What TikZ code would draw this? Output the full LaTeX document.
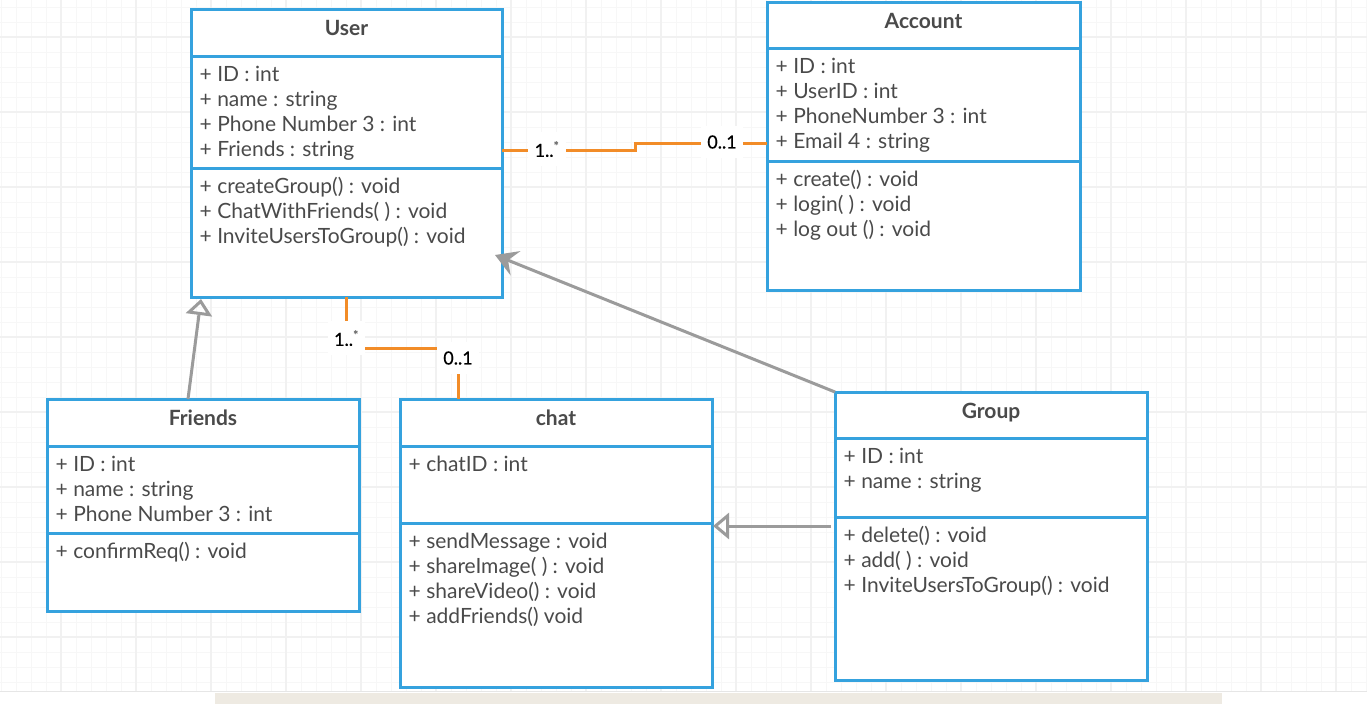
\documentclass[tikz,border=0pt]{standalone}
\usepackage{fontspec}
\setmainfont{Lato}
\newfontfamily\multfont{Lato}[FakeBold=0.6]
\usetikzlibrary{calc,arrows.meta}

\definecolor{umlblue}{HTML}{35A2DE}
\definecolor{assoccol}{HTML}{F28C28}
\definecolor{gencol}{HTML}{9B9B9B}
\definecolor{txt}{HTML}{4A4A4A}
\definecolor{gridminor}{HTML}{F7F7F7}
\definecolor{gridmajor}{HTML}{F1F1F1}
\definecolor{gridedge}{HTML}{E6E6E6}
\definecolor{strip}{HTML}{EEEAE2}

\tikzset{
  classbox/.style={draw=umlblue, line width=3pt, fill=white, outer sep=0pt, inner sep=0pt},
  divider/.style={draw=umlblue, line width=3pt},
  member/.style={text=txt, font=\fontsize{21}{25}\selectfont, inner sep=0pt, anchor=base west},
  ctitle/.style={text=txt, font=\bfseries\fontsize{21}{25}\selectfont, inner sep=0pt, anchor=base},
  assocline/.style={draw=assoccol, line width=3pt},
  mult/.style={font=\multfont\fontsize{18}{20}\selectfont, fill=white, inner xsep=6.5pt, inner ysep=9pt, text=black},
  genline/.style={draw=gencol, line width=3pt},
  genarrow/.style={genline, -{Triangle[open, length=16pt, width=26pt]}},
  openhead/.style={genline, -{Stealth[length=22pt, width=26pt, inset=8pt]}},
}

% class box: name, x, y, width, height, title height, attribute height, title
\newcommand\umlclass[8]{%
  \node[classbox, minimum width=#4pt, minimum height=#5pt, anchor=north west] (#1) at (#2,#3) {};
  \draw[divider] ($(#1.north west)+(0,#6)$) coordinate (#1-d1) -- ($(#1.north east)+(0,#6)$);
  \draw[divider] ($(#1.north west)+(0,#6+#7)$) coordinate (#1-d2) -- ($(#1.north east)+(0,#6+#7)$);
  \node[ctitle] (#1-title) at ($(#1.north)+(0,26.5)$) {#8};
}
% member lines below a divider: class name, divider coordinate, prefix, list
\newcommand\umlmembers[4]{%
  \foreach \memb [count=\i from 0] in {#4}
    \node[member] (#1-#3\i) at ($(#2)+(8.5,25.5+25*\i)$) {\memb};
}
% multiplicity "1..*" with a small grey star
\newcommand\manymult{1..{\color{black!55}\textsuperscript{*}}}

\begin{document}
\begin{tikzpicture}[x=1pt, y=-1pt]
\useasboundingbox (0,0) rectangle (1367,704);
\fill[white] (0,0) rectangle (1367,704);

% background grid
\foreach \x in {1,16,...,1366} \draw[gridminor, line width=1pt] (\x,0) -- (\x,691);
\foreach \y in {7,22,...,690} \draw[gridminor, line width=1pt] (0,\y) -- (1367,\y);
\foreach \x in {61,136,...,1366} \draw[gridmajor, line width=1.2pt] (\x,0) -- (\x,691);
\foreach \y in {37,112,...,690} \draw[gridmajor, line width=1.2pt] (0,\y) -- (1367,\y);
\draw[gridedge, line width=1.2pt] (0,691.5) -- (1367,691.5);
\fill[strip] (215,692.5) rectangle (1222,704);

% classes
\umlclass{user}{191}{9}{311}{288}{47}{112}{User}
\umlmembers{user}{user-d1}{a}{{+ ID : int},{+ name : string},{+ Phone Number 3 : int},{+ Friends : string}}
\umlmembers{user}{user-d2}{m}{{+ createGroup() : void},{+ ChatWithFriends( ) : void},{+ InviteUsersToGroup() : void}}

\umlclass{account}{767}{2}{313}{288}{46}{113}{Account}
\umlmembers{account}{account-d1}{a}{{+ ID : int},{+ UserID : int},{+ PhoneNumber 3 : int},{+ Email 4 : string}}
\umlmembers{account}{account-d2}{m}{{+ create() : void},{+ login( ) : void},{+ log out () : void}}

\umlclass{friends}{47}{399}{312}{212}{47}{87}{Friends}
\umlmembers{friends}{friends-d1}{a}{{+ ID : int},{+ name : string},{+ Phone Number 3 : int}}
\umlmembers{friends}{friends-d2}{m}{{+ confirmReq() : void}}

\umlclass{chat}{400}{399}{312}{288}{47}{77}{chat}
\umlmembers{chat}{chat-d1}{a}{{+ chatID : int}}
\umlmembers{chat}{chat-d2}{m}{{+ sendMessage : void},{+ shareImage( ) : void},{+ shareVideo() : void},{+ addFriends() void}}

\umlclass{group}{835}{392}{312}{288}{46}{79}{Group}
\umlmembers{group}{group-d1}{a}{{+ ID : int},{+ name : string}}
\umlmembers{group}{group-d2}{m}{{+ delete() : void},{+ add( ) : void},{+ InviteUsersToGroup() : void}}

% generalizations
\draw[genarrow] ($(friends.north west)+(141,0)$) -- ($(user.south west)+(10,2)$);
\draw[genarrow] ($(group.north west)+(-4,134)$) -- ($(chat.north east)+(1,127)$);
\draw[openhead] (group.north west) -- ($(user.north east)+(-7,246)$);

% associations
\draw[assocline] ($(user.north east)+(0,141)$) -- ++(133,0) |- ($(account.north west)+(0,141)$);
\node[mult] (ua-src) at ($(user.north east)+(45,140)$) {\manymult};
\node[mult] (ua-dst) at ($(account.north west)+(-45,140)$) {0..1};

\draw[assocline] (user.south) -- ++(0,51) -| ($(chat.north west)+(58,0)$);
\node[mult] (uc-src) at ($(user.south)+(0,41)$) {\manymult};
\node[mult] (uc-dst) at ($(chat.north west)+(58,-41)$) {0..1};
\end{tikzpicture}
\end{document}
